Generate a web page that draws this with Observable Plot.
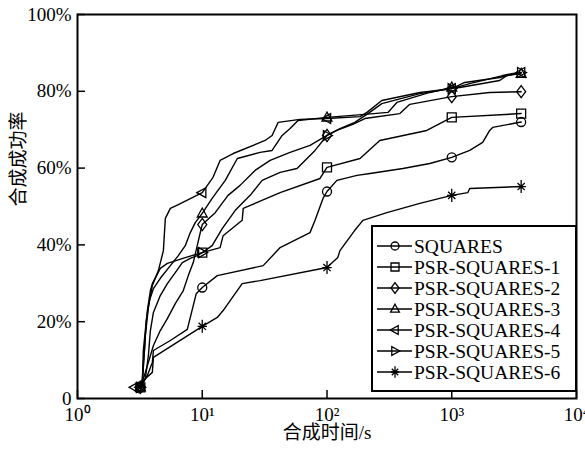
<!DOCTYPE html>
<html><head><meta charset="utf-8">
<script src="https://cdn.jsdelivr.net/npm/d3@7"></script>
<script src="https://cdn.jsdelivr.net/npm/@observablehq/plot@0.6"></script>
<style>
html,body{margin:0;padding:0;background:#fff;}
#chart{position:relative;width:585px;height:449px;}
</style></head><body><div id="chart"></div>
<script>
// ---- data (x: synthesis time in s, y: success rate in %) ----
const seriesNames = ["SQUARES","PSR-SQUARES-1","PSR-SQUARES-2","PSR-SQUARES-3","PSR-SQUARES-4","PSR-SQUARES-5","PSR-SQUARES-6"];

const squaresX = [3.19,3.63,3.98,4.06,5.55,7.59,8.47,8.95,10,13.2,30.8,42.1,73.1,80.2,92.9,100,120,174,221,406,667,1000,1393,1770,2014,2128,3600];
const squaresY = [2.9,6.0,9.4,12.5,15.1,18.0,24.2,27.3,28.9,32.0,34.6,39.3,43.2,46.4,52.1,53.9,56.8,58.1,58.6,59.9,61.2,62.8,64.6,66.7,69.8,70.6,72.0];

const psr1X = [3.19,3.31,3.37,3.63,3.84,3.98,4.61,5.25,7.31,10,13.9,14.7,20.9,21.3,42.1,87.9,100,184,265,631,1000,3600];
const psr1Y = [2.9,3.9,12.5,22.9,28.1,29.9,33.9,35.2,36.7,38.0,39.3,42.4,46.4,49.5,53.6,57.3,60.2,62.5,67.2,69.8,73.2,74.2];

const psr2X = [3.19,3.44,3.70,4.06,4.61,5.25,6.08,7.05,7.73,8.47,9.12,9.64,10,12.7,16.1,20.1,26.5,35.0,50.6,73.1,100,120,161,201,384,461,1000,2014,3600];
const psr2Y = [2.9,6.0,9.4,13.8,17.7,20.8,24.7,28.1,32.0,35.4,39.8,43.2,45.3,48.4,52.9,55.5,59.4,62.0,64.1,65.9,68.5,69.8,71.4,72.9,74.2,76.6,78.6,79.7,79.9];

const psr3X = [3.19,3.31,3.44,3.56,3.77,4.06,4.61,5.55,6.43,7.31,8.02,8.79,10,12.0,15.3,19.1,29.1,36.3,43.7,50.6,58.6,100,201,308,363,667,1000,1159,2421,2754,3600];
const psr3Y = [2.9,5.2,12.5,20.3,25.5,28.6,31.3,34.6,37.2,39.8,43.2,45.8,48.2,52.1,56.8,62.5,64.1,64.6,68.5,70.3,72.4,73.2,74.0,74.5,77.1,79.7,81.0,81.0,82.8,84.1,84.6];

const psr4X = [2.86,3.19,3.31,3.50,3.70,3.98,4.45,4.88,5.06,5.55,6.43,10,12.2,13.9,17.7,31.9,36.3,40.6,60.8,100,184,209,275,555,1000,1271,2421,3600];
const psr4Y = [2.9,3.4,3.9,16.4,23.7,29.4,33.3,38.5,46.9,49.5,50.5,53.6,57.6,62.0,63.8,67.2,68.5,71.9,72.7,72.9,73.4,74.5,77.6,79.7,80.7,82.3,83.6,84.9];

const psr5X = [3.19,3.50,3.70,3.84,4.06,4.61,5.25,6.08,6.92,8.02,9.12,10,12.0,14.5,18.4,24.2,30.2,42.1,57.5,80.2,100,127,167,213,275,555,1000,1393,2559,3020,3600];
const psr5Y = [2.9,5.2,11.2,17.7,22.4,26.8,29.9,32.8,35.4,36.5,37.2,38.0,39.8,44.3,49.0,52.9,56.8,58.9,59.9,64.6,68.5,70.3,71.9,74.2,76.8,79.4,80.7,82.0,84.1,84.6,84.9];

const psr6X = [3.19,3.37,3.98,4.06,10,13.2,14.7,20.9,29.1,100,122,127,167,194,302,555,1000,1343,1393,2014,3600];
const psr6Y = [2.9,4.7,6.8,10.7,18.8,21.1,22.9,29.9,30.7,34.1,36.7,38.5,43.8,46.4,48.4,50.8,52.9,53.6,54.7,54.9,55.2];

const markerTimes = [10, 100, 1000];
const xTicks = [1, 10, 100, 1000, 10000];
const xTickLabels = ["10⁰","10¹","10²","10³","10⁴"];
const yTicks = [0, 20, 40, 60, 80, 100];
const yTickLabels = ["0","20%","40%","60%","80%","100%"];
const xTitle = "合成时间/s";
const yTitle = "合成成功率";

// ---- symbols ----
function sym(fn){ return {draw(c, size){ const r = Math.sqrt(size/Math.PI); fn(c, r); }}; }
function poly(c, pts){ c.moveTo(pts[0][0], pts[0][1]); for (let i=1;i<pts.length;i++) c.lineTo(pts[i][0], pts[i][1]); c.closePath(); }
const symCircle = sym((c,r)=>{ c.moveTo(r,0); c.arc(0,0,r,0,2*Math.PI); c.closePath(); });
const symSquare = sym((c,r)=>{ const s=r; poly(c,[[-s,-s],[s,-s],[s,s],[-s,s]]); });
const symDiamond = sym((c,r)=>{ poly(c,[[0,-1.35*r],[1.0*r,0],[0,1.35*r],[-1.0*r,0]]); });
const symTriUp = sym((c,r)=>{ poly(c,[[0,-1.2*r],[1.1*r,0.8*r],[-1.1*r,0.8*r]]); });
const symTriLeft = sym((c,r)=>{ poly(c,[[-1.2*r,0],[0.8*r,-1.1*r],[0.8*r,1.1*r]]); });
const symTriRight = sym((c,r)=>{ poly(c,[[1.2*r,0],[-0.8*r,-1.1*r],[-0.8*r,1.1*r]]); });
const symAst = sym((c,r)=>{ const v=1.45*r, h=1.05*r, d=0.8*r;
  c.moveTo(0,-v); c.lineTo(0,v); c.moveTo(-h,0); c.lineTo(h,0);
  c.moveTo(-d,-d); c.lineTo(d,d); c.moveTo(-d,d); c.lineTo(d,-d); });
const symbols = [symCircle, symSquare, symDiamond, symTriUp, symTriLeft, symTriRight, symAst];

const seriesXs = [squaresX, psr1X, psr2X, psr3X, psr4X, psr5X, psr6X];
const seriesYs = [squaresY, psr1Y, psr2Y, psr3Y, psr4Y, psr5Y, psr6Y];

const rows = [];
seriesNames.forEach((name, k) => {
  const xs = seriesXs[k], ys = seriesYs[k];
  xs.forEach((x, i) => rows.push({name, x, y: ys[i], marker: i === 0 || i === xs.length - 1 || markerTimes.includes(x)}));
});
const markerRows = rows.filter(d => d.marker);

const font = "'Liberation Serif', 'Times New Roman', 'Noto Sans CJK SC', serif";

const chart = Plot.plot({
  width: 585, height: 449,
  marginLeft: 77, marginRight: 9, marginTop: 14, marginBottom: 51,
  x: {type: "log", domain: [1, 10000]},
  y: {domain: [0, 100]},
  symbol: {domain: seriesNames, range: symbols},
  style: {fontFamily: font, fontSize: "19px", color: "#000", background: "#fff"},
  marks: [
    Plot.tickX(xTicks, {x: d => d, insetTop: 376, stroke: "#000", strokeWidth: 1.5}),
    Plot.tickY(yTicks, {y: d => d, insetRight: 491, stroke: "#000", strokeWidth: 1.5}),
    Plot.axisX({ticks: xTicks, tickSize: 0, tickPadding: 9, label: null, fontSize: 19,
      tickFormat: d => xTickLabels[xTicks.indexOf(d)]}),
    Plot.axisY({ticks: yTicks, tickSize: 0, tickPadding: 6, label: null, fontSize: 19,
      tickFormat: d => yTickLabels[yTicks.indexOf(d)]}),
    Plot.line(rows, {x: "x", y: "y", z: "name", stroke: "#000", strokeWidth: 1.4, strokeLinejoin: "round"}),
    Plot.dot(markerRows, {x: "x", y: "y", symbol: "name", r: 4.5, stroke: "#000", fill: "none", strokeWidth: 1.3}),
    Plot.frame({stroke: "#000", strokeWidth: 2}),
    Plot.text([xTitle], {frameAnchor: "bottom", dy: 40, fontSize: 19, fill: "#000"}),
    Plot.text([yTitle], {frameAnchor: "left", dx: -59, rotate: -90, fontSize: 19, fill: "#000"})
  ]
});
document.getElementById("chart").appendChild(chart);

// ---- legend (inside the plot frame, lower right) ----
const svg = d3.select(chart);
const lg = svg.append("g").attr("transform", "translate(372,226)");
lg.append("rect").attr("x", 0).attr("y", 0).attr("width", 204).attr("height", 165)
  .attr("fill", "#fff").attr("stroke", "#000").attr("stroke-width", 2);
seriesNames.forEach((name, k) => {
  const cy = 20 + k * 21;
  const g = lg.append("g").attr("transform", `translate(0,${cy})`);
  g.append("line").attr("x1", 5).attr("x2", 40).attr("y1", 0).attr("y2", 0)
    .attr("stroke", "#000").attr("stroke-width", 1.4);
  g.append("path").attr("transform", "translate(23,0)")
    .attr("d", d3.symbol(symbols[k], Math.PI * 4 * 4)())
    .attr("fill", "none").attr("stroke", "#000").attr("stroke-width", 1.3);
  g.append("text").attr("x", 42).attr("y", 0).attr("dy", "0.34em")
    .attr("text-anchor", "start")
    .attr("font-family", font).attr("font-size", 19.5).attr("fill", "#000").text(name);
});
</script>
</body></html>
